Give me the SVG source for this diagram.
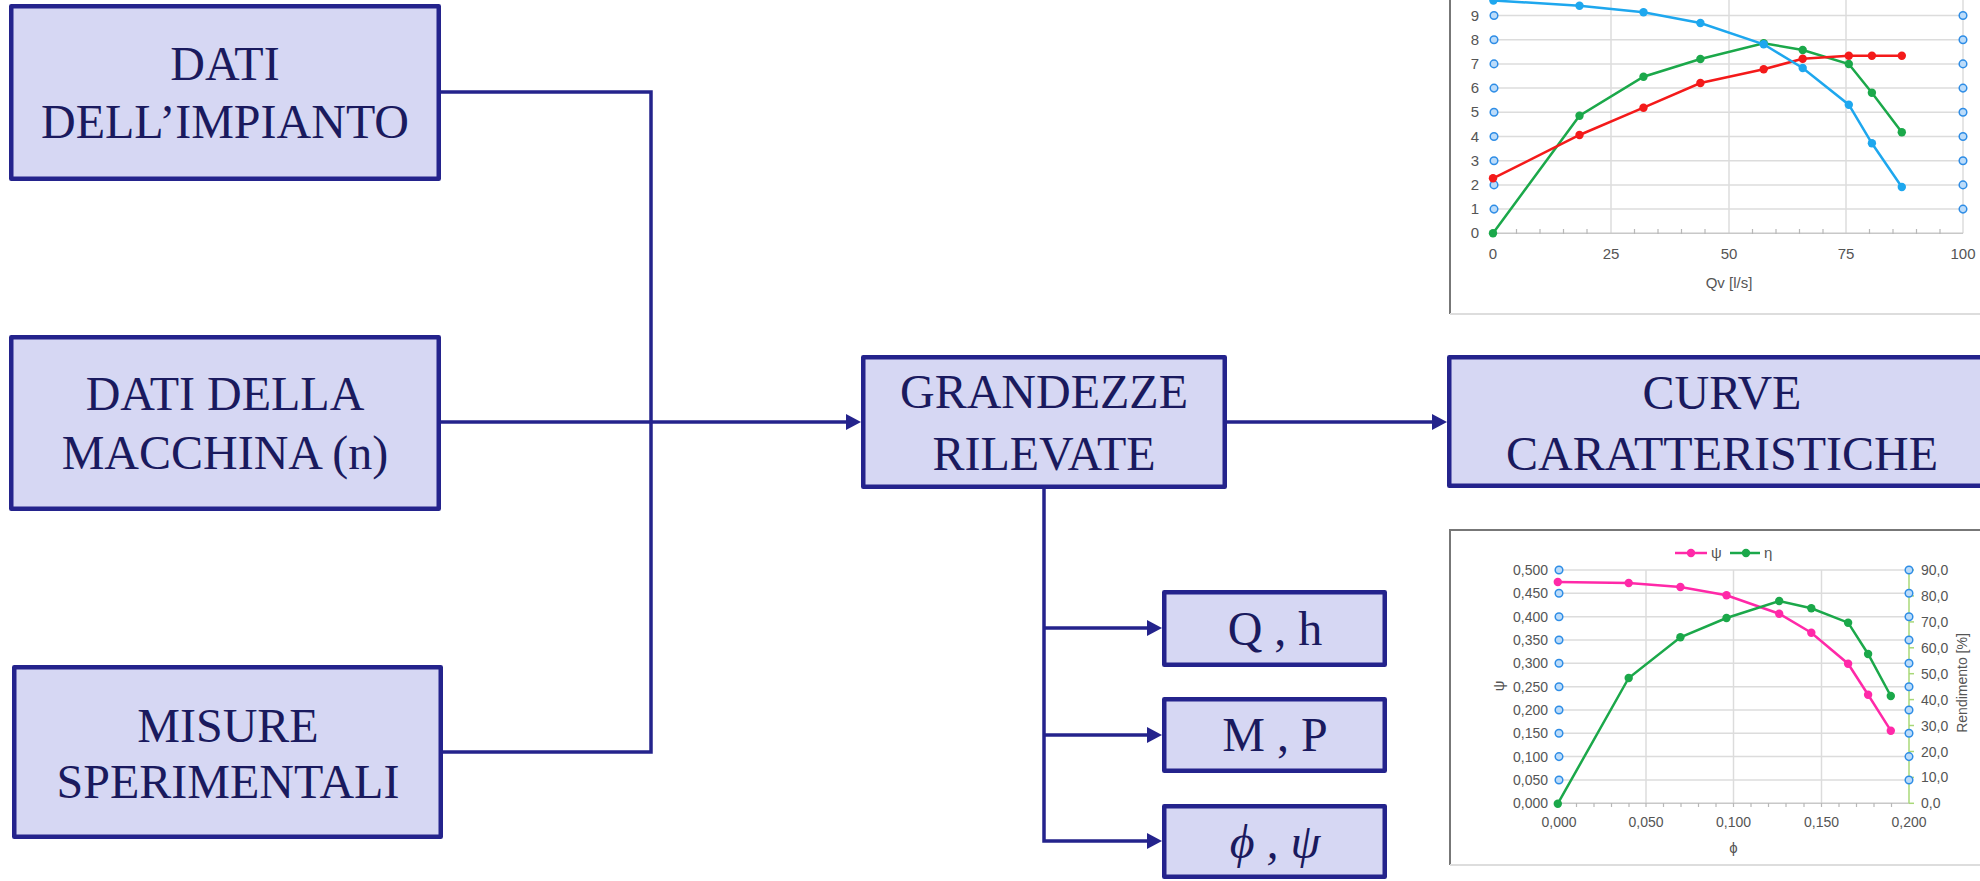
<svg xmlns="http://www.w3.org/2000/svg" width="1980" height="881" viewBox="0 0 1980 881">
<style>
.box{fill:#d6d7f3;stroke:#24238c;stroke-width:4.5;stroke-linejoin:round}
.t{font-family:"Liberation Serif","Times New Roman",serif;font-size:48px;fill:#1a1a5e;text-anchor:middle}
.ti{font-style:italic}
.con{fill:none;stroke:#24238c;stroke-width:3.5;stroke-linejoin:miter}
.grid{stroke:#dcdcdc;stroke-width:1.5}
.ax{stroke:#c8c8c8;stroke-width:1.5}
.tick{stroke:#b8b8b8;stroke-width:1.2}
.lab{font-family:"Liberation Sans",Arial,sans-serif;font-size:15px;fill:#555}
.lab2{font-family:"Liberation Sans",Arial,sans-serif;font-size:14px;fill:#555}
.bm{fill:#bcdcfa;stroke:#2e8de6;stroke-width:1.5}
.fr{stroke:#777;stroke-width:2;fill:none}
.frl{stroke:#ddd;stroke-width:2;fill:none}
</style>
<defs>
<marker id="arr" markerUnits="userSpaceOnUse" markerWidth="16" markerHeight="16" refX="7" refY="8" orient="auto">
<path d="M0,0 L15,8 L0,16 z" fill="#24238c"/>
</marker>
</defs>

<g id="connectors">
<polyline class="con" points="441,92 651,92 651,752 443,752"/>
<line class="con" x1="441" y1="422" x2="853" y2="422" marker-end="url(#arr)"/>
<line class="con" x1="1227" y1="422" x2="1439" y2="422" marker-end="url(#arr)"/>
<polyline class="con" points="1044,489 1044,841 1154,841" marker-end="url(#arr)"/>
<line class="con" x1="1044" y1="628" x2="1154" y2="628" marker-end="url(#arr)"/>
<line class="con" x1="1044" y1="735" x2="1154" y2="735" marker-end="url(#arr)"/>
</g>

<g id="node-dati-impianto">
<rect class="box" x="11.25" y="6.25" width="427.5" height="172.5"/>
<text class="t" x="225" y="80">DATI</text>
<text class="t" x="225" y="138">DELL’IMPIANTO</text>
</g>
<g id="node-dati-macchina">
<rect class="box" x="11.25" y="337.25" width="427.5" height="171.5"/>
<text class="t" x="225" y="410">DATI DELLA</text>
<text class="t" x="225" y="469">MACCHINA (n)</text>
</g>
<g id="node-misure">
<rect class="box" x="14.25" y="667.25" width="426.5" height="169.5"/>
<text class="t" x="228" y="742">MISURE</text>
<text class="t" x="228" y="798">SPERIMENTALI</text>
</g>
<g id="node-grandezze">
<rect class="box" x="863.25" y="357.25" width="361.5" height="129.5"/>
<text class="t" x="1044" y="408">GRANDEZZE</text>
<text class="t" x="1044" y="470">RILEVATE</text>
</g>
<g id="node-curve">
<rect class="box" x="1449.25" y="357.25" width="550" height="128.5"/>
<text class="t" x="1722" y="409">CURVE</text>
<text class="t" x="1722" y="470">CARATTERISTICHE</text>
</g>
<g id="node-qh">
<rect class="box" x="1164.25" y="592.25" width="220.5" height="72.5"/>
<text class="t" x="1275" y="645">Q , h</text>
</g>
<g id="node-mp">
<rect class="box" x="1164.25" y="699.25" width="220.5" height="71.5"/>
<text class="t" x="1275" y="751">M , P</text>
</g>
<g id="node-phipsi">
<rect class="box" x="1164.25" y="806.25" width="220.5" height="70.5"/>
<text class="t ti" x="1275" y="858">ϕ , ψ</text>
</g>

<g id="chart-top">
<line class="fr" x1="1450" y1="0" x2="1450" y2="314"/>
<line class="frl" x1="1450" y1="314" x2="1980" y2="314"/>
<g class="grid">
<line x1="1493" y1="15.5" x2="1963" y2="15.5"/>
<line x1="1493" y1="39.7" x2="1963" y2="39.7"/>
<line x1="1493" y1="63.9" x2="1963" y2="63.9"/>
<line x1="1493" y1="88.1" x2="1963" y2="88.1"/>
<line x1="1493" y1="112.3" x2="1963" y2="112.3"/>
<line x1="1493" y1="136.5" x2="1963" y2="136.5"/>
<line x1="1493" y1="160.7" x2="1963" y2="160.7"/>
<line x1="1493" y1="184.9" x2="1963" y2="184.9"/>
<line x1="1493" y1="209.1" x2="1963" y2="209.1"/>
<line x1="1611" y1="0" x2="1611" y2="233.3"/>
<line x1="1729" y1="0" x2="1729" y2="233.3"/>
<line x1="1846" y1="0" x2="1846" y2="233.3"/>
<line x1="1963" y1="0" x2="1963" y2="233.3"/>
</g>
<line class="ax" x1="1493" y1="233.3" x2="1963" y2="233.3"/>
<g class="tick">
<line x1="1516.5" y1="229" x2="1516.5" y2="234"/><line x1="1540" y1="229" x2="1540" y2="234"/><line x1="1563.5" y1="229" x2="1563.5" y2="234"/><line x1="1587" y1="229" x2="1587" y2="234"/>
<line x1="1634.5" y1="229" x2="1634.5" y2="234"/><line x1="1658" y1="229" x2="1658" y2="234"/><line x1="1681.5" y1="229" x2="1681.5" y2="234"/><line x1="1705" y1="229" x2="1705" y2="234"/>
<line x1="1752.5" y1="229" x2="1752.5" y2="234"/><line x1="1776" y1="229" x2="1776" y2="234"/><line x1="1799.5" y1="229" x2="1799.5" y2="234"/><line x1="1823" y1="229" x2="1823" y2="234"/>
<line x1="1869.5" y1="229" x2="1869.5" y2="234"/><line x1="1893" y1="229" x2="1893" y2="234"/><line x1="1916.5" y1="229" x2="1916.5" y2="234"/><line x1="1940" y1="229" x2="1940" y2="234"/>
</g>
<g class="lab" text-anchor="end">
<text x="1479" y="20.5">9</text><text x="1479" y="44.7">8</text><text x="1479" y="68.9">7</text><text x="1479" y="93.1">6</text><text x="1479" y="117.3">5</text><text x="1479" y="141.5">4</text><text x="1479" y="165.7">3</text><text x="1479" y="189.9">2</text><text x="1479" y="214.1">1</text><text x="1479" y="238.3">0</text>
</g>
<g class="lab" text-anchor="middle">
<text x="1493" y="259">0</text><text x="1611" y="259">25</text><text x="1729" y="259">50</text><text x="1846" y="259">75</text><text x="1963" y="259">100</text>
<text x="1729" y="288">Qv [l/s]</text>
</g>
<g>
<circle class="bm" cx="1494" cy="15.5" r="3.8"/><circle class="bm" cx="1494" cy="39.7" r="3.8"/><circle class="bm" cx="1494" cy="63.9" r="3.8"/><circle class="bm" cx="1494" cy="88.1" r="3.8"/><circle class="bm" cx="1494" cy="112.3" r="3.8"/><circle class="bm" cx="1494" cy="136.5" r="3.8"/><circle class="bm" cx="1494" cy="160.7" r="3.8"/><circle class="bm" cx="1494" cy="184.9" r="3.8"/><circle class="bm" cx="1494" cy="209.1" r="3.8"/>
<circle class="bm" cx="1963" cy="15.5" r="3.8"/><circle class="bm" cx="1963" cy="39.7" r="3.8"/><circle class="bm" cx="1963" cy="63.9" r="3.8"/><circle class="bm" cx="1963" cy="88.1" r="3.8"/><circle class="bm" cx="1963" cy="112.3" r="3.8"/><circle class="bm" cx="1963" cy="136.5" r="3.8"/><circle class="bm" cx="1963" cy="160.7" r="3.8"/><circle class="bm" cx="1963" cy="184.9" r="3.8"/><circle class="bm" cx="1963" cy="209.1" r="3.8"/>
</g>
<g fill="#1ba84a">
<polyline fill="none" stroke="#1ba84a" stroke-width="2.5" points="1493,233.3 1579.5,115.7 1643.5,76.7 1700.4,59 1763.7,43.3 1802.7,50 1848.8,64 1871.9,92.7 1901.8,132.3"/>
<circle cx="1493" cy="233.3" r="4.2"/><circle cx="1579.5" cy="115.7" r="4.2"/><circle cx="1643.5" cy="76.7" r="4.2"/><circle cx="1700.4" cy="59" r="4.2"/><circle cx="1763.7" cy="43.3" r="4.2"/><circle cx="1802.7" cy="50" r="4.2"/><circle cx="1848.8" cy="64" r="4.2"/><circle cx="1871.9" cy="92.7" r="4.2"/><circle cx="1901.8" cy="132.3" r="4.2"/>
</g>
<g fill="#f41a1a">
<polyline fill="none" stroke="#f41a1a" stroke-width="2.5" points="1493,178.3 1579.5,135 1643.5,107.7 1700.4,83 1763.7,69.3 1802.7,58.7 1848.8,55.7 1871.9,55.7 1901.8,55.7"/>
<circle cx="1493" cy="178.3" r="4.2"/><circle cx="1579.5" cy="135" r="4.2"/><circle cx="1643.5" cy="107.7" r="4.2"/><circle cx="1700.4" cy="83" r="4.2"/><circle cx="1763.7" cy="69.3" r="4.2"/><circle cx="1802.7" cy="58.7" r="4.2"/><circle cx="1848.8" cy="55.7" r="4.2"/><circle cx="1871.9" cy="55.7" r="4.2"/><circle cx="1901.8" cy="55.7" r="4.2"/>
</g>
<g fill="#1ea7ee">
<polyline fill="none" stroke="#1ea7ee" stroke-width="2.5" points="1493.4,0.5 1579.5,5.7 1643.5,12.3 1700.4,23 1763.7,44.3 1802.7,68 1848.8,104.7 1871.9,143.3 1901.8,187"/>
<circle cx="1493.4" cy="0.5" r="4.2"/><circle cx="1579.5" cy="5.7" r="4.2"/><circle cx="1643.5" cy="12.3" r="4.2"/><circle cx="1700.4" cy="23" r="4.2"/><circle cx="1763.7" cy="44.3" r="4.2"/><circle cx="1802.7" cy="68" r="4.2"/><circle cx="1848.8" cy="104.7" r="4.2"/><circle cx="1871.9" cy="143.3" r="4.2"/><circle cx="1901.8" cy="187" r="4.2"/>
</g>
</g>

<g id="chart-bottom">
<polyline class="fr" points="1980,530 1450,530 1450,865"/>
<line class="frl" x1="1450" y1="865" x2="1980" y2="865"/>
<g class="grid">
<line x1="1559" y1="570" x2="1909" y2="570"/>
<line x1="1559" y1="593.3" x2="1909" y2="593.3"/>
<line x1="1559" y1="616.7" x2="1909" y2="616.7"/>
<line x1="1559" y1="640" x2="1909" y2="640"/>
<line x1="1559" y1="663.3" x2="1909" y2="663.3"/>
<line x1="1559" y1="686.7" x2="1909" y2="686.7"/>
<line x1="1559" y1="710" x2="1909" y2="710"/>
<line x1="1559" y1="733.3" x2="1909" y2="733.3"/>
<line x1="1559" y1="756.6" x2="1909" y2="756.6"/>
<line x1="1559" y1="780" x2="1909" y2="780"/>
<line x1="1646" y1="570" x2="1646" y2="803.3"/>
<line x1="1733.5" y1="570" x2="1733.5" y2="803.3"/>
<line x1="1821.5" y1="570" x2="1821.5" y2="803.3"/>
</g>
<line class="ax" x1="1559" y1="803.3" x2="1909" y2="803.3"/>
<g class="tick">
<line x1="1576.5" y1="803" x2="1576.5" y2="807"/><line x1="1594" y1="803" x2="1594" y2="807"/><line x1="1611.5" y1="803" x2="1611.5" y2="807"/><line x1="1629" y1="803" x2="1629" y2="807"/><line x1="1646" y1="803" x2="1646" y2="807"/>
<line x1="1663.5" y1="803" x2="1663.5" y2="807"/><line x1="1681" y1="803" x2="1681" y2="807"/><line x1="1698.5" y1="803" x2="1698.5" y2="807"/><line x1="1716" y1="803" x2="1716" y2="807"/><line x1="1733.5" y1="803" x2="1733.5" y2="807"/>
<line x1="1751" y1="803" x2="1751" y2="807"/><line x1="1768.5" y1="803" x2="1768.5" y2="807"/><line x1="1786" y1="803" x2="1786" y2="807"/><line x1="1804" y1="803" x2="1804" y2="807"/><line x1="1821.5" y1="803" x2="1821.5" y2="807"/>
<line x1="1839" y1="803" x2="1839" y2="807"/><line x1="1856.5" y1="803" x2="1856.5" y2="807"/><line x1="1874" y1="803" x2="1874" y2="807"/><line x1="1891.5" y1="803" x2="1891.5" y2="807"/>
</g>
<line x1="1909" y1="570" x2="1909" y2="803.3" stroke="#a8d878" stroke-width="1.5"/>
<g stroke="#a8d878" stroke-width="1.5">
<line x1="1909" y1="777.4" x2="1914" y2="777.4"/><line x1="1909" y1="751.5" x2="1914" y2="751.5"/><line x1="1909" y1="725.5" x2="1914" y2="725.5"/><line x1="1909" y1="699.6" x2="1914" y2="699.6"/><line x1="1909" y1="673.7" x2="1914" y2="673.7"/><line x1="1909" y1="647.8" x2="1914" y2="647.8"/><line x1="1909" y1="621.9" x2="1914" y2="621.9"/><line x1="1909" y1="595.9" x2="1914" y2="595.9"/><line x1="1909" y1="570" x2="1914" y2="570"/><line x1="1909" y1="803.3" x2="1914" y2="803.3"/>
</g>
<g class="lab2" text-anchor="end">
<text x="1548" y="575">0,500</text><text x="1548" y="598.3">0,450</text><text x="1548" y="621.7">0,400</text><text x="1548" y="645">0,350</text><text x="1548" y="668.3">0,300</text><text x="1548" y="691.7">0,250</text><text x="1548" y="715">0,200</text><text x="1548" y="738.3">0,150</text><text x="1548" y="761.6">0,100</text><text x="1548" y="785">0,050</text><text x="1548" y="808.3">0,000</text>
</g>
<g class="lab2" text-anchor="start">
<text x="1921" y="575">90,0</text><text x="1921" y="600.9">80,0</text><text x="1921" y="626.9">70,0</text><text x="1921" y="652.8">60,0</text><text x="1921" y="678.7">50,0</text><text x="1921" y="704.6">40,0</text><text x="1921" y="730.5">30,0</text><text x="1921" y="756.5">20,0</text><text x="1921" y="782.4">10,0</text><text x="1921" y="808.3">0,0</text>
</g>
<g class="lab2" text-anchor="middle">
<text x="1559" y="827">0,000</text><text x="1646" y="827">0,050</text><text x="1733.5" y="827">0,100</text><text x="1821.5" y="827">0,150</text><text x="1909" y="827">0,200</text>
<text x="1733.5" y="853" class="lab">ϕ</text>
<text x="0" y="0" class="lab" transform="translate(1504,686) rotate(-90)">ψ</text>
<text x="0" y="0" transform="translate(1967,683) rotate(-90)">Rendimento [%]</text>
</g>
<g>
<line x1="1675" y1="553" x2="1707" y2="553" stroke="#ff29a8" stroke-width="2.5"/>
<circle cx="1691" cy="553" r="4.2" fill="#ff29a8"/>
<text class="lab" x="1711" y="558">ψ</text>
<line x1="1730" y1="553" x2="1760" y2="553" stroke="#1ba84a" stroke-width="2.5"/>
<circle cx="1746" cy="553" r="4.2" fill="#1ba84a"/>
<text class="lab" x="1764" y="558">η</text>
</g>
<g>
<circle class="bm" cx="1559" cy="570" r="3.8"/><circle class="bm" cx="1559" cy="593.3" r="3.8"/><circle class="bm" cx="1559" cy="616.7" r="3.8"/><circle class="bm" cx="1559" cy="640" r="3.8"/><circle class="bm" cx="1559" cy="663.3" r="3.8"/><circle class="bm" cx="1559" cy="686.7" r="3.8"/><circle class="bm" cx="1559" cy="710" r="3.8"/><circle class="bm" cx="1559" cy="733.3" r="3.8"/><circle class="bm" cx="1559" cy="756.6" r="3.8"/><circle class="bm" cx="1559" cy="780" r="3.8"/>
<circle class="bm" cx="1909" cy="570" r="3.8"/><circle class="bm" cx="1909" cy="593.3" r="3.8"/><circle class="bm" cx="1909" cy="616.7" r="3.8"/><circle class="bm" cx="1909" cy="640" r="3.8"/><circle class="bm" cx="1909" cy="663.3" r="3.8"/><circle class="bm" cx="1909" cy="686.7" r="3.8"/><circle class="bm" cx="1909" cy="710" r="3.8"/><circle class="bm" cx="1909" cy="733.3" r="3.8"/><circle class="bm" cx="1909" cy="756.6" r="3.8"/><circle class="bm" cx="1909" cy="780" r="3.8"/>
</g>
<g fill="#ff29a8">
<polyline fill="none" stroke="#ff29a8" stroke-width="2.5" points="1557.8,582 1628.7,583 1680.4,587 1726.5,595.3 1779.2,613.7 1811.3,632.7 1848.1,663.7 1868.1,694.7 1890.8,730.7"/>
<circle cx="1557.8" cy="582" r="4.2"/><circle cx="1628.7" cy="583" r="4.2"/><circle cx="1680.4" cy="587" r="4.2"/><circle cx="1726.5" cy="595.3" r="4.2"/><circle cx="1779.2" cy="613.7" r="4.2"/><circle cx="1811.3" cy="632.7" r="4.2"/><circle cx="1848.1" cy="663.7" r="4.2"/><circle cx="1868.1" cy="694.7" r="4.2"/><circle cx="1890.8" cy="730.7" r="4.2"/>
</g>
<g fill="#1ba84a">
<polyline fill="none" stroke="#1ba84a" stroke-width="2.5" points="1557.8,803.7 1628.7,678 1680.4,637.3 1726.5,618 1779.2,601 1811.3,608.3 1848.1,622.7 1868.1,654 1890.8,696"/>
<circle cx="1557.8" cy="803.7" r="4.2"/><circle cx="1628.7" cy="678" r="4.2"/><circle cx="1680.4" cy="637.3" r="4.2"/><circle cx="1726.5" cy="618" r="4.2"/><circle cx="1779.2" cy="601" r="4.2"/><circle cx="1811.3" cy="608.3" r="4.2"/><circle cx="1848.1" cy="622.7" r="4.2"/><circle cx="1868.1" cy="654" r="4.2"/><circle cx="1890.8" cy="696" r="4.2"/>
</g>
</g>
</svg>
